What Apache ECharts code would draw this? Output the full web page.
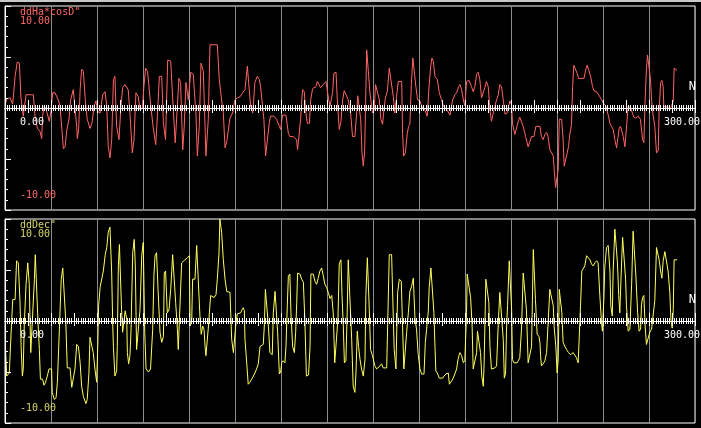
<!DOCTYPE html>
<html>
<head>
<meta charset="utf-8">
<script src="https://cdn.jsdelivr.net/npm/echarts@6/dist/echarts.min.js"></script>
<style>
html,body{margin:0;padding:0;background:#000;}
#wrap{position:relative;width:701px;height:428px;overflow:hidden;}
#chart{position:absolute;left:0;top:0;width:701px;height:428px;}
#frame{position:absolute;left:0;top:0;width:701px;height:2px;background:#c8c8c8;pointer-events:none;}
</style>
</head>
<body>
<div id="wrap"><div id="chart"></div><div id="frame"></div></div>
<script>
// ---- data (x = sample number, y = value) ----
const haTitle = 'ddHa*cosD"';
const decTitle = 'ddDec"';
const axisName = 'N';
const yTickLabels = [10, 0, -10];
const xTickLabels = [0, 300];
const xMax = 300 * 15 / 14;

const haPoints = [
[0.0,0.2],[0.8,0.9],[2.3,1.0],[3.6,0.4],[4.7,3.1],[5.7,4.5],[6.7,4.4],[7.4,1.1],[8.5,-0.8],[9.8,1.3],[13.2,1.3],[14.0,-0.8],[15.1,-2.0],[16.3,-2.3],[17.1,-3.0],[17.5,-0.8],[18.3,0.2],[19.4,-0.3],[20.6,-1.3],[21.3,-0.5],[22.2,1.5],[23.3,1.5],[24.8,0.8],[25.6,0.2],[26.5,-2.1],[27.2,-4.0],[28.0,-3.8],[28.7,-2.3],[29.8,-1.1],[30.6,0.8],[31.8,1.8],[33.4,-1.8],[33.7,-3.0],[34.3,-2.1],[35.0,1.8],[35.7,3.8],[36.5,3.6],[37.4,0.8],[38.3,-1.1],[39.6,-2.0],[40.5,-1.5],[41.5,0.2],[42.4,0.7],[43.0,-0.3],[44.3,-0.5],[45.5,1.3],[46.6,1.6],[47.4,0.2],[48.1,-3.8],[48.9,-4.9],[49.7,-3.1],[50.5,2.8],[51.2,3.1],[52.0,-1.8],[53.1,-3.1],[53.9,-0.2],[54.8,2.0],[55.9,2.3],[57.4,1.8],[58.2,-0.5],[59.3,-4.4],[60.1,-3.1],[61.0,1.5],[62.1,1.1],[62.9,-0.2],[64.0,0.0],[64.7,2.1],[65.5,3.9],[66.4,3.6],[67.5,1.1],[68.8,-1.5],[70.2,-3.6],[71.0,-0.8],[71.9,3.1],[73.0,3.1],[73.8,-1.5],[74.8,-3.1],[75.8,4.7],[77.2,4.6],[78.4,-0.2],[79.3,-3.4],[80.3,0.2],[81.0,2.9],[81.8,2.5],[82.8,-4.1],[83.5,-1.8],[84.3,2.5],[85.4,0.8],[86.5,3.5],[87.7,3.3],[89.0,-0.8],[89.6,-4.7],[90.5,-1.8],[91.3,4.4],[92.4,3.6],[93.6,-4.7],[94.7,-1.1],[95.5,6.2],[98.9,6.2],[99.8,2.8],[100.9,0.8],[101.7,-0.5],[102.5,-3.9],[103.3,-3.3],
[104.8,-1.0],[106.0,-0.5],[107.1,0.8],[108.2,1.0],[109.5,1.1],[110.7,1.5],[111.8,1.8],[112.9,4.1],[113.8,4.1],[114.4,0.2],[115.4,-0.5],[116.4,2.5],[117.5,3.1],[118.5,2.8],[119.1,2.0],[120.0,2.0],[120.6,-1.1],[121.4,-4.7],[122.2,-4.7],[123.1,-1.5],[123.7,-0.8],[125.3,-0.8],[126.5,-1.1],[127.8,-1.8],[128.4,-2.1],[129.3,-0.7],[130.9,-0.7],[132.0,-2.5],[132.7,-2.8],[134.3,-2.8],[135.8,-3.1],[136.3,-4.1],[137.1,-4.1],[137.7,-1.1],[138.6,1.8],[139.4,1.6],[140.2,-0.5],[140.8,-1.5],[141.8,-1.5],[142.4,0.8],[143.3,1.9],[144.9,2.1],[145.5,2.6],[146.4,2.5],[147.0,2.0],[148.3,2.3],[149.5,2.6],[150.1,2.5],[150.8,0.8],[151.4,0.2],[152.6,1.5],[153.2,3.4],[154.2,3.5],[154.8,0.8],[155.7,-2.1],[156.5,-1.3],[157.3,0.8],[158.0,1.7],[158.8,1.6],[159.9,0.8],[161.0,-0.5],[161.9,-2.8],[163.0,-2.8],[163.8,-0.5],[164.3,1.2],[165.0,1.1],[165.7,-1.1],[166.3,-4.4],[166.9,-5.7],[167.5,-4.4],[168.0,0.5],[168.5,5.7],[169.2,5.7],[170.0,1.5],[171.2,-0.5],[172.0,-0.2],[172.6,2.3],[173.4,2.3],[174.4,0.8],[175.1,-1.1],[175.9,-1.6],[176.5,-0.2],[177.2,1.0],[178.1,1.6],[179.0,3.9],[179.9,3.9],[180.9,1.1],[181.6,-0.5],[182.4,1.1],[183.2,2.6],[184.8,2.6],[185.2,-2.5],[185.7,-4.7],[186.5,-4.4],[187.4,-2.5],[188.0,-1.8],[188.6,-1.6],[189.3,2.3],[190.0,4.9],[190.7,4.9],[191.4,2.1],[192.2,0.8],[193.3,0.7],[194.1,0.2],[194.8,0.0],[195.6,-0.2],[196.7,-0.8],[197.6,2.3],[198.3,4.1],[198.9,4.9],[199.5,4.6],[200.3,3.1],[201.4,2.8],[202.3,1.5],[203.4,0.8],[204.2,0.2],[205.0,0.2],[206.0,-0.2],[207.3,-0.7],[208.5,0.8],[209.6,1.3],[210.4,1.5],[211.3,2.1],[211.9,2.3],
[212.7,1.8],[213.5,0.8],[214.2,0.2],[215.0,2.6],[216.2,2.7],[217.3,2.1],[218.1,1.6],[218.9,2.1],[219.7,3.3],[220.4,3.5],[221.2,2.8],[222.0,1.0],[222.8,1.1],[223.5,2.0],[224.3,2.6],[225.1,2.1],[225.9,-0.2],[226.6,-1.3],[227.4,-1.2],[228.2,0.2],[229.0,0.8],[229.8,1.3],[230.5,2.3],[231.3,2.1],[232.1,0.8],[232.9,-0.6],[233.9,-0.5],[235.2,0.7],[236.0,0.3],[236.4,-1.5],[237.5,-2.6],[238.3,-2.6],[239.1,-1.3],[239.8,-0.9],[240.6,-1.0],[241.4,-1.8],[242.5,-2.8],[243.7,-3.8],[244.5,-3.3],[245.3,-2.8],[246.4,-2.8],[247.3,-1.8],[249.2,-1.8],[249.9,-2.8],[250.7,-3.1],[251.5,-2.6],[252.3,-2.4],[253.0,-2.8],[253.8,-4.1],[254.6,-4.2],[255.4,-4.7],[255.8,-6.0],[256.5,-7.8],[257.1,-7.8],[257.7,-6.0],[258.2,-1.1],[259.3,-1.1],[260.0,-3.1],[260.5,-5.7],[261.3,-5.7],[261.9,-4.4],[262.5,-3.8],[263.1,-2.6],[263.9,-1.6],[264.4,2.1],[265.0,4.2],[265.9,4.1],[266.5,3.4],[267.2,2.9],[269.7,2.9],[270.6,3.8],[271.2,4.2],[272.1,4.2],[272.8,3.1],[273.7,2.1],[274.3,1.7],[275.6,1.6],[276.3,1.5],[277.1,1.1],[277.9,0.8],[278.7,0.5],[279.9,0.2],[281.0,-0.7],[281.8,-1.5],[282.5,-1.8],[283.3,-2.1],[284.1,-3.1],[284.9,-3.9],[285.5,-3.9],[286.1,-2.0],[286.7,-1.8],[287.4,-2.3],[288.0,-2.8],[288.8,-3.8],[289.5,-3.8],[290.3,0.2],[291.4,0.0],[292.3,-0.5],[292.9,-0.9],[293.9,-1.0],[295.0,-0.8],[296.0,-1.1],[297.0,-3.1],[297.6,-3.4],[298.2,0.8],[298.8,3.8],[299.3,5.2],[300.1,5.1],[300.7,2.8],[301.2,0.8],[301.9,-0.7],[302.7,-1.8],[303.5,-4.4],[304.3,-4.2],[304.7,-0.5],[305.4,2.5],[306.0,2.7],[306.6,2.1],[306.9,0.2],[307.7,0.0],[308.5,0.2],[309.7,-0.2],[310.5,0.2],[311.3,0.7],[311.7,3.9],[312.5,3.8],[313.1,3.7]
];

const decPoints = [
[0.2,-2.5],[0.8,-5.4],[2.0,-5.1],[3.1,0.0],[3.6,2.1],[4.7,2.1],[5.4,5.9],[6.2,5.7],[7.0,1.8],[7.5,-2.5],[8.1,-5.4],[8.5,-4.7],[9.0,-0.2],[9.8,3.6],[10.6,5.7],[11.3,3.6],[12.0,-3.1],[12.7,-3.1],[13.7,4.1],[14.1,6.5],[14.7,6.4],[15.4,-0.2],[16.0,-2.8],[16.5,-5.7],[17.5,-5.7],[18.2,-6.3],[18.9,-6.0],[19.7,-5.4],[20.5,-4.7],[21.3,-4.6],[21.7,-4.7],[22.0,-7.0],[23.0,-7.7],[23.8,-7.5],[24.4,-6.0],[25.3,-1.0],[26.2,4.1],[26.9,5.2],[27.6,5.1],[28.3,0.0],[29.0,-4.6],[30.3,-4.6],[31.1,-6.5],[31.8,-6.4],[32.6,-4.7],[33.4,-2.3],[34.2,-2.5],[35.0,-4.1],[35.7,-6.4],[36.5,-7.4],[37.7,-8.1],[38.3,-7.7],[39.1,-5.1],[39.6,-1.6],[40.4,-1.5],[41.1,-3.1],[41.9,-4.7],[42.7,-6.0],[43.2,-2.5],[43.6,1.5],[44.3,3.3],[45.0,3.3],[45.8,4.9],[46.7,6.5],[47.4,7.2],[48.1,8.7],[48.9,9.2],[49.7,4.7],[50.2,-0.5],[50.5,-2.5],[51.2,-5.4],[52.0,-4.9],[52.3,-2.5],[52.8,5.4],[53.3,7.5],[53.9,7.4],[54.3,1.1],[54.8,-1.1],[55.4,-1.1],[56.0,1.0],[56.7,0.2],[57.0,-3.1],[57.6,-4.2],[58.2,-3.4],[58.7,-1.0],[59.5,6.7],[60.2,8.0],[60.7,5.4],[61.3,-2.8],[62.1,-2.8],[62.9,1.1],[63.7,6.4],[64.4,7.7],[65.1,-1.1],[65.7,-4.7],[66.8,-5.0],[67.8,-4.7],[68.8,-0.8],[69.4,4.6],[69.9,6.4],[70.6,6.7],[71.3,3.1],[72.2,-1.1],[73.0,-2.1],[73.8,-1.5],[74.2,4.7],[74.8,4.9],[75.6,0.8],[76.4,1.1],[77.2,3.1],[78.1,6.5],[78.7,6.5],[79.5,1.8],[80.3,-0.8],[80.7,-2.8],[81.5,-2.8],[82.3,5.7],[83.1,5.7],[83.8,6.0],[85.0,6.2],[85.9,6.4],[86.2,-0.5],[86.6,-0.3],[87.0,0.2],[87.4,4.1],[88.5,4.1],[89.3,7.4],[90.1,7.4],[90.8,0.5],[91.4,-1.3],[92.1,-0.5],[92.7,-0.8],[93.2,-2.5],[93.6,-3.4],[94.2,-3.4],[94.7,-0.7],[95.2,0.8],[95.8,2.5],[96.4,2.6],[97.4,2.3],[98.3,2.6],[98.9,4.1],[99.7,6.7],[100.1,10.0],[100.5,10.0],[100.9,8.7],[101.7,6.0],[102.5,4.1],[103.3,2.9],[104.8,2.8],
[105.6,-1.8],[106.4,-3.1],[107.1,-3.1],[107.6,-0.2],[108.2,0.7],[109.1,0.7],[109.8,0.8],[110.4,1.1],[111.0,1.3],[111.5,1.0],[111.8,-1.8],[112.6,-4.1],[113.3,-6.2],[114.1,-6.0],[114.9,-5.7],[115.7,-5.4],[116.4,-5.1],[117.2,-4.7],[118.0,-4.2],[118.8,-2.5],[119.5,-2.4],[120.3,-2.3],[120.8,-0.5],[121.3,3.1],[122.2,3.1],[122.7,-0.5],[123.4,-3.1],[124.5,-3.3],[125.0,0.8],[125.8,2.9],[126.4,2.9],[127.0,-1.1],[127.8,-5.2],[128.4,-5.0],[128.9,-4.1],[129.6,-3.9],[130.4,-4.1],[130.9,-2.5],[131.5,1.5],[132.0,4.4],[132.7,4.6],[133.2,0.8],[134.0,-2.5],[134.8,-3.1],[135.4,-1.1],[135.9,1.8],[136.3,4.7],[137.4,4.6],[138.2,4.1],[139.0,3.8],[139.7,0.0],[140.4,-5.4],[141.4,-5.3],[142.1,-2.5],[142.5,4.6],[143.6,4.6],[144.4,3.9],[145.2,3.6],[145.9,4.2],[146.7,4.9],[147.5,5.2],[148.3,4.4],[149.0,3.6],[149.8,3.3],[150.6,2.8],[151.4,2.2],[152.2,2.5],[152.9,0.8],[153.6,-4.1],[154.5,-4.1],[155.1,0.2],[155.7,5.6],[156.5,6.0],[157.0,2.5],[157.6,-0.5],[158.1,-4.1],[158.8,-3.9],[159.4,0.8],[159.9,6.0],[160.7,6.0],[161.5,-1.8],[162.2,-6.4],[163.0,-7.0],[163.5,-5.1],[164.1,-1.0],[164.7,-2.5],[165.4,-3.8],[166.1,-4.7],[166.9,-5.4],[167.7,-3.8],[168.1,2.5],[168.8,6.2],[169.2,6.2],[169.7,1.1],[170.3,-2.8],[171.2,-3.4],[172.3,-4.4],[173.1,-4.7],[173.9,-4.6],[174.7,-4.4],[175.4,-4.2],[176.2,-4.6],[177.8,-4.6],[178.4,0.8],[179.0,6.5],[180.1,6.5],[180.9,0.2],[181.3,-2.8],[182.1,-4.7],[182.9,2.8],[183.7,4.1],[184.6,3.9],[185.2,-0.5],[185.8,-4.7],[186.5,-4.7],[187.1,-1.1],[187.9,0.8],[188.6,2.9],[189.4,3.4],[190.2,4.2],[191.0,0.2],[191.7,-0.8],[192.5,-3.3],[193.3,-4.7],[194.1,-5.2],[195.2,-5.2],[195.8,-2.1],[196.4,-0.8],[197.2,1.0],[197.6,3.3],[198.4,5.2],[199.2,5.2],[199.8,0.8],[200.3,-2.5],[200.7,-4.9],[201.4,-5.1],[202.3,-5.6],[202.9,-5.7],[203.9,-5.6],[204.5,-5.4],[205.4,-5.2],[206.5,-5.1],[207.0,-6.2],[208.0,-5.9],[208.8,-5.6],[209.6,-5.6],[210.4,-4.7],[211.0,-3.8],[211.6,-3.3],
[211.9,-3.1],[212.7,-3.4],[213.5,-4.1],[214.2,-3.9],[215.0,0.8],[215.3,4.6],[216.2,4.6],[216.9,2.3],[217.6,-0.5],[218.1,-4.7],[218.9,-4.6],[219.7,-3.1],[220.1,-1.0],[220.9,-1.1],[221.5,-3.1],[222.1,-5.4],[222.8,-6.4],[223.2,-4.1],[224.0,4.1],[224.8,4.2],[225.4,1.8],[225.9,-2.5],[226.6,-4.7],[227.4,-4.6],[228.2,-4.6],[229.0,-4.4],[229.8,-0.2],[230.5,2.8],[231.3,2.8],[232.1,-1.8],[232.6,-5.6],[233.2,-5.1],[233.6,-1.0],[234.1,1.5],[234.9,5.9],[235.5,6.0],[236.0,1.1],[236.4,-3.8],[237.1,-4.1],[237.8,-4.1],[238.6,-4.1],[239.1,-3.9],[239.8,-3.6],[240.6,-0.8],[241.4,4.7],[242.2,4.7],[242.9,1.1],[243.7,-4.1],[244.5,-4.2],[245.3,-2.5],[246.1,7.0],[246.7,7.0],[247.1,2.1],[247.9,-1.3],[248.7,-1.5],[249.2,-2.1],[249.5,-3.4],[249.9,-4.4],[250.7,-4.2],[251.5,-3.9],[252.3,-3.1],[253.0,-0.2],[253.8,3.1],[254.6,3.2],[255.4,1.5],[255.8,-0.5],[256.6,-2.5],[257.2,-5.1],[257.7,-3.8],[258.2,3.1],[258.8,3.2],[259.4,0.8],[260.0,-2.1],[260.8,-2.5],[261.6,-2.8],[262.5,-3.1],[263.4,-3.3],[264.7,-3.1],[265.5,-3.1],[266.2,-3.6],[267.0,-4.1],[267.8,-4.1],[268.1,1.5],[268.7,4.9],[269.3,5.0],[270.1,5.4],[270.9,6.4],[271.7,6.5],[272.5,6.0],[273.2,5.6],[274.0,5.4],[274.8,5.7],[275.6,5.9],[276.3,5.7],[277.1,2.5],[277.9,-0.2],[278.3,-1.0],[279.0,2.3],[279.4,5.2],[280.2,7.2],[281.0,7.4],[281.8,4.9],[282.2,1.5],[282.9,0.5],[283.3,4.9],[284.1,9.0],[284.9,9.0],[285.3,5.7],[285.9,2.5],[286.4,0.8],[286.9,3.8],[287.7,8.2],[288.4,8.3],[289.1,4.1],[289.5,1.5],[290.3,-1.0],[291.1,-0.8],[291.9,3.6],[292.6,8.8],[293.4,8.7],[293.9,4.4],[294.7,0.8],[295.4,-1.0],[296.1,-0.8],[296.5,1.6],[297.0,2.3],[297.6,2.5],[298.2,-0.5],[298.8,-2.3],[299.6,-2.3],[300.4,-1.1],[301.2,-0.8],[301.9,-0.8],[302.7,2.0],[303.5,7.2],[304.3,7.3],[304.7,6.0],[305.4,4.9],[306.0,4.2],[306.6,5.9],[307.4,6.8],[308.2,6.7],[308.9,4.9],[309.7,2.8],[310.2,0.2],[310.8,-0.7],[311.3,1.1],[311.7,6.0],[312.5,6.0],[313.1,6.0]
];

// ---- styling ----
const panels = [
  { title: haTitle, points: haPoints, line: '#ff6464', text: '#ff6a6a', top: 6 },
  { title: decTitle, points: decPoints, line: '#ffff5a', text: '#d4d46a', top: 219 }
];
const FONT = '"DejaVu Sans Mono", "Liberation Mono", monospace';
const PANEL_H = 204;

const grids = [], xAxes = [], yAxes = [], series = [];
panels.forEach((p, i) => {
  grids.push({ left: 5, top: p.top, width: 690, height: PANEL_H, show: true,
    borderColor: '#ffffff', borderWidth: 1, backgroundColor: 'transparent' });
  const base = { gridIndex: i, type: 'value', min: 0, max: xMax,
    axisLabel: { show: false }, splitLine: { show: false } };
  // zero axis, ticks pointing down
  xAxes.push(Object.assign({}, base, { position: 'bottom', interval: 150 / 14, z: 5,
    axisLine: { show: true, onZero: true, lineStyle: { color: '#ffffff', width: 1 } },
    axisTick: { show: true, inside: false, length: 5, lineStyle: { color: '#ffffff' } },
    minorTick: { show: true, splitNumber: 10, length: 3, lineStyle: { color: '#ffffff' } } }));
  // zero axis, ticks pointing up (y range is symmetric, so zero sits mid-panel)
  xAxes.push(Object.assign({}, base, { position: 'top', offset: -PANEL_H / 2, interval: 150 / 14, z: 5,
    axisLine: { show: true, onZero: false, lineStyle: { color: '#ffffff', width: 1 } },
    axisTick: { show: true, inside: false, length: 8, lineStyle: { color: '#ffffff' } },
    minorTick: { show: true, splitNumber: 10, length: 3, lineStyle: { color: '#ffffff' } } }));
  // vertical grid lines
  xAxes.push(Object.assign({}, base, { position: 'bottom', interval: 300 / 14, z: 0,
    axisLine: { show: false, onZero: false }, axisTick: { show: false }, minorTick: { show: false },
    splitLine: { show: true, lineStyle: { color: '#8c8c8c', width: 1 } } }));
  yAxes.push({ gridIndex: i, type: 'value', min: -10, max: 10, interval: 5, position: 'left', z: 5,
    axisLine: { show: true, onZero: false, lineStyle: { color: '#ffffff' } },
    axisTick: { show: true, inside: true, length: 6, lineStyle: { color: '#ffffff' } },
    minorTick: { show: true, splitNumber: 5, length: 3, lineStyle: { color: '#ffffff' } },
    axisLabel: { show: false }, splitLine: { show: false } });
  series.push({ type: 'line', xAxisIndex: i * 3, yAxisIndex: i, data: p.points,
    symbol: 'none', showSymbol: false, smooth: false, clip: true, z: 3,
    lineStyle: { color: p.line, width: 1 }, emphasis: { disabled: true } });
});

const chart = echarts.init(document.getElementById('chart'), null, { renderer: 'canvas' });
chart.setOption({
  backgroundColor: '#000000', animation: false,
  grid: grids, xAxis: xAxes, yAxis: yAxes, series: series
});

// ---- text labels placed through the axes ----
const fmt = v => v.toFixed(2);
const graphics = [];
panels.forEach((p, i) => {
  const f = { xAxisIndex: i * 3, yAxisIndex: i };
  const tl = chart.convertToPixel(f, [0, yTickLabels[0]]);
  const zr = chart.convertToPixel(f, [0, yTickLabels[1]]);
  const bl = chart.convertToPixel(f, [0, yTickLabels[2]]);
  const xr = chart.convertToPixel(f, [xTickLabels[1], 0]);
  const xEnd = chart.convertToPixel(f, [xMax, 0]);
  const st = (text, color, extra) => Object.assign({ text: text, fill: color, font: '10px ' + FONT }, extra || {});
  graphics.push({ type: 'text', x: tl[0] + 15, y: tl[1] + 1, z: 10, style: st(p.title, p.text, { verticalAlign: 'top' }) });
  graphics.push({ type: 'text', x: tl[0] + 15, y: tl[1] + 10, z: 10, style: st(fmt(yTickLabels[0]), p.text, { verticalAlign: 'top' }) });
  graphics.push({ type: 'text', x: bl[0] + 15, y: bl[1] - 10, z: 10, style: st(fmt(yTickLabels[2]), p.text, { verticalAlign: 'bottom' }) });
  graphics.push({ type: 'text', x: zr[0] + 15, y: zr[1] + 9, z: 10, style: st(fmt(xTickLabels[0]), '#ffffff', { verticalAlign: 'top' }) });
  graphics.push({ type: 'text', x: xr[0] + 15, y: xr[1] + 9, z: 10, style: st(fmt(xTickLabels[1]), '#ffffff', { verticalAlign: 'top' }) });
  graphics.push({ type: 'text', x: xEnd[0] + 1, y: xEnd[1] - 21, z: 10, style: st(axisName, '#ffffff', { align: 'right', verticalAlign: 'middle', font: '12px ' + FONT }) });
});
chart.setOption({ graphic: graphics });
</script>
</body>
</html>
